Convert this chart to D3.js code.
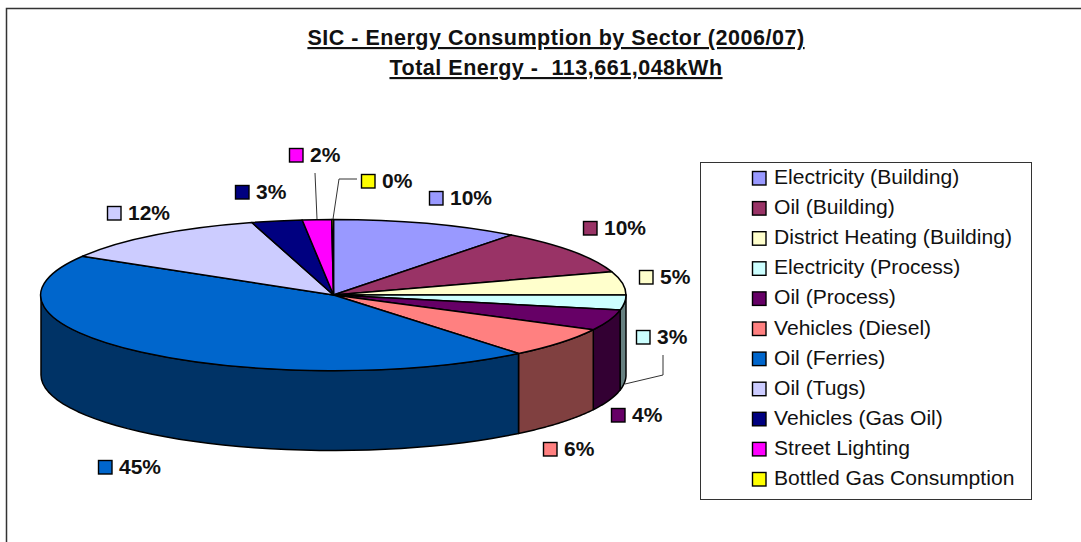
<!DOCTYPE html>
<html>
<head>
<meta charset="utf-8">
<script src="https://cdn.jsdelivr.net/npm/d3@7"></script>
<style>
    html, body { margin: 0; padding: 0; background: #fff; overflow: hidden; }
    svg { display: block; font-family: "Liberation Sans", Arial, sans-serif; }
    .title { font-size: 21.5px; font-weight: bold; text-anchor: middle; text-decoration: underline; letter-spacing: 0.52px; white-space: pre; fill: #111; }
    .pct { font-size: 21px; font-weight: bold; fill: #111; }
    .legend-text { font-size: 21.1px; fill: #111; }
    .top-slice { vector-effect: non-scaling-stroke; }
</style>
</head>
<body>
<div id="chart"></div>
<script>
// data
const sectors = ["Electricity (Building)", "Oil (Building)", "District Heating (Building)", "Electricity (Process)",
    "Oil (Process)", "Vehicles (Diesel)", "Oil (Ferries)", "Oil (Tugs)", "Vehicles (Gas Oil)", "Street Lighting",
    "Bottled Gas Consumption"];
const shares = [10.4, 9.6, 5.0, 3.2, 4.4, 6.5, 44.5, 11.9, 2.8, 1.6, 0.1];
const pctLabels = ["10%", "10%", "5%", "3%", "4%", "6%", "45%", "12%", "3%", "2%", "0%"];
const topColors = ["#9999ff", "#993366", "#ffffcc", "#ccffff", "#660066", "#ff8080", "#0066cc", "#ccccff", "#000080", "#ff00ff", "#ffff00"];
const sideColors = ["#666699", "#662244", "#888866", "#668080", "#330033", "#804040", "#003366", "#666680", "#000040", "#800080", "#808000"];
const titleLines = ["SIC - Energy Consumption by Sector (2006/07)", "Total Energy -  113,661,048kWh"];

// label keys in the same order as the sectors, centre of the little square
const labelPos = [[436, 198], [590, 228], [646, 277], [643, 337], [618, 415], [550, 449], [105, 467], [114, 213], [242, 192], [296, 155], [368, 181]];

const width = 1081, height = 542;
const cx = 333.5, cy = 295, rx = 292.5, ry = 75.5, depth = 80;

const svg = d3.select("#chart").append("svg")
    .attr("width", width)
    .attr("height", height);

// chart frame, runs off the right and bottom of the crop
svg.append("rect")
    .attr("x", 6.5).attr("y", 8.5)
    .attr("width", 1200).attr("height", 700)
    .attr("fill", "#fff")
    .attr("stroke", "#333")
    .attr("stroke-width", 1.5);

svg.selectAll(".title")
    .data(titleLines)
    .enter().append("text")
    .attr("class", "title")
    .attr("x", 556)
    .attr("y", (d, i) => 45 + i * 30)
    .text(d => d);

const pie = d3.pie().sort(null).value(d => d);
const slices = pie(shares);
const color = d3.scaleOrdinal().domain(d3.range(sectors.length)).range(topColors);
const sideColor = d3.scaleOrdinal().domain(d3.range(sectors.length)).range(sideColors);

// angle is clockwise from the top, same as d3.pie
const rimX = a => cx + rx * Math.sin(a);
const rimY = a => cy - ry * Math.cos(a);

// side wall: only the front half of the rim shows
const wallLine = d3.line().x(d => d[0]).y(d => d[1]);
const front = slices.map((s, i) => {
    const a0 = Math.max(s.startAngle, Math.PI / 2);
    const a1 = Math.min(s.endAngle, Math.PI * 3 / 2);
    return {i: i, a0: a0, a1: a1};
}).filter(d => d.a1 > d.a0);

svg.selectAll(".wall")
    .data(front)
    .enter().append("path")
    .attr("class", "wall")
    .attr("fill", d => sideColor(d.i))
    .attr("stroke", "#000")
    .attr("stroke-width", 1.5)
    .attr("stroke-linejoin", "round")
    .attr("d", d => {
        const upper = d3.range(0, 41).map(k => d.a0 + (d.a1 - d.a0) * k / 40);
        const pts = upper.map(a => [rimX(a), rimY(a)])
            .concat(upper.slice().reverse().map(a => [rimX(a), rimY(a) + depth]));
        return wallLine(pts) + "Z";
    });

// top of the pie: unit arcs squashed into the ellipse
const arc = d3.arc().innerRadius(0).outerRadius(1);
svg.append("g")
    .attr("transform", "translate(" + cx + "," + cy + ") scale(" + rx + "," + ry + ")")
    .selectAll(".top-slice")
    .data(slices)
    .enter().append("path")
    .attr("class", "top-slice")
    .attr("d", arc)
    .attr("fill", (d, i) => color(i))
    .attr("stroke", "#000")
    .attr("stroke-width", 1.5)
    .attr("stroke-linejoin", "round");

// leader lines for the small slices
const leaders = [
    {i: 3, pts: [[663, 355], [663, 375], [625, 384]]},
    {i: 9, pts: [[315, 173], [317, 219]]},
    {i: 10, pts: [[357, 179], [339, 179], [333, 219]]}
];
svg.selectAll(".leader")
    .data(leaders)
    .enter().append("path")
    .attr("class", "leader")
    .attr("fill", "none")
    .attr("stroke", "#333")
    .attr("stroke-width", 1)
    .attr("d", d => wallLine(d.pts));

// percentage labels with key squares
const pct = svg.selectAll(".pct-group")
    .data(pctLabels)
    .enter().append("g")
    .attr("class", "pct-group")
    .attr("transform", (d, i) => "translate(" + labelPos[i][0] + "," + labelPos[i][1] + ")");

pct.append("rect")
    .attr("x", -6.5).attr("y", -6.5)
    .attr("width", 13.5).attr("height", 13.5)
    .attr("fill", (d, i) => color(i))
    .attr("stroke", "#000")
    .attr("stroke-width", 1.4);

pct.append("text")
    .attr("class", "pct")
    .attr("x", 14)
    .attr("y", 7)
    .text(d => d);

// legend
svg.append("rect")
    .attr("x", 700.5).attr("y", 162.5)
    .attr("width", 331).attr("height", 337)
    .attr("fill", "#fff")
    .attr("stroke", "#333")
    .attr("stroke-width", 1);

const rowY = d3.scalePoint().domain(d3.range(sectors.length)).range([178, 479]);
const rows = svg.selectAll(".legend-row")
    .data(sectors)
    .enter().append("g")
    .attr("class", "legend-row")
    .attr("transform", (d, i) => "translate(752," + rowY(i) + ")");

rows.append("rect")
    .attr("x", 0.5).attr("y", -6.5)
    .attr("width", 13.5).attr("height", 13.5)
    .attr("fill", (d, i) => color(i))
    .attr("stroke", "#000")
    .attr("stroke-width", 1.4);

rows.append("text")
    .attr("class", "legend-text")
    .attr("x", 22)
    .attr("y", 6)
    .text(d => d);
</script>
</body>
</html>
